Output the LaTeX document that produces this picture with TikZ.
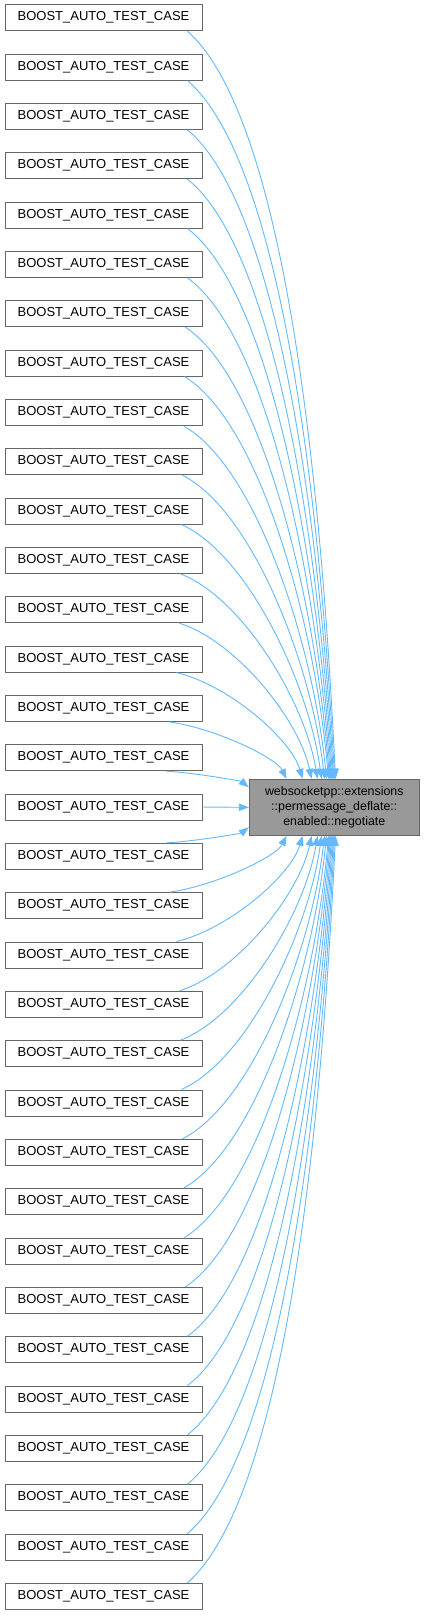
\documentclass[tikz,border=0pt]{standalone}
\usepackage{fontspec}
\setmainfont{Liberation Sans}
\usetikzlibrary{arrows.meta,calc}
\definecolor{edgeblue}{HTML}{63B8FF}
\definecolor{boxline}{HTML}{666666}
\definecolor{targetfill}{HTML}{999999}
\begin{document}
\begin{tikzpicture}[x=1pt,y=1pt,
  callerbox/.style={draw=boxline,line width=1pt,fill=white,minimum width=197pt,minimum height=26pt,inner sep=0pt,font=\fontsize{13}{15.6}\selectfont},
  targetbox/.style={draw=boxline,line width=1pt,fill=targetfill,minimum width=170pt,minimum height=56pt,inner sep=0pt,align=center,font=\fontsize{12.4}{14.7}\selectfont},
  calledge/.style={draw=edgeblue,line width=0.9pt,-{Triangle[length=10pt,width=7.5pt]}}]
\useasboundingbox (0,0) rectangle (424,-1615);
\node[targetbox] (t) at (334.3,-807.3) {websocketpp::extensions\\::permessage\_deflate::\\enabled::negotiate};
\foreach \k in {0,...,32}{
  \node[callerbox] (b\k) at (103.5,{-17.7-49.333*\k}) {BOOST\_AUTO\_TEST\_CASE};
}
\foreach \k in {0,...,32}{
  \pgfmathtruncatemacro\d{abs(\k-16)}
  \ifnum\d=0
    \draw[calledge] (b\k.east) -- (t.west);
  \else
    \pgfmathsetmacro\sx{{0,167,170,177,180,181,182,183,184,185,186,188,188,188,188,188,188}[\d]-5}
    \pgfmathsetmacro\ex{{0,0,287,303,312,318,322,325,327,329,330,331,332,333,334,335,336}[\d]-249.3}
    \pgfmathsetmacro\aone{min(0.4+(\d-2)*0.02,0.69)}
    \ifnum\k<16
      \coordinate (s\k) at ($(b\k.south west)+(\sx,0)$);
      \ifnum\d=1 \coordinate (e\k) at ($(t.west)+(0,20)$); \else \coordinate (e\k) at ($(t.north west)+(\ex,0)$); \fi
    \else
      \coordinate (s\k) at ($(b\k.north west)+(\sx,0)$);
      \ifnum\d=1 \coordinate (e\k) at ($(t.west)+(0,-20)$); \else \coordinate (e\k) at ($(t.south west)+(\ex,0)$); \fi
    \fi
    \draw[calledge] let \p1=(s\k), \p2=(e\k) in (s\k) .. controls ({\x1+\aone*(\x2-\x1)},{\y1+0.12*(\y2-\y1)}) and ({\x2-0.09*(\x2-\x1)},{\y2-0.37*(\y2-\y1)}) .. (e\k);
  \fi
}
\end{tikzpicture}
\end{document}
